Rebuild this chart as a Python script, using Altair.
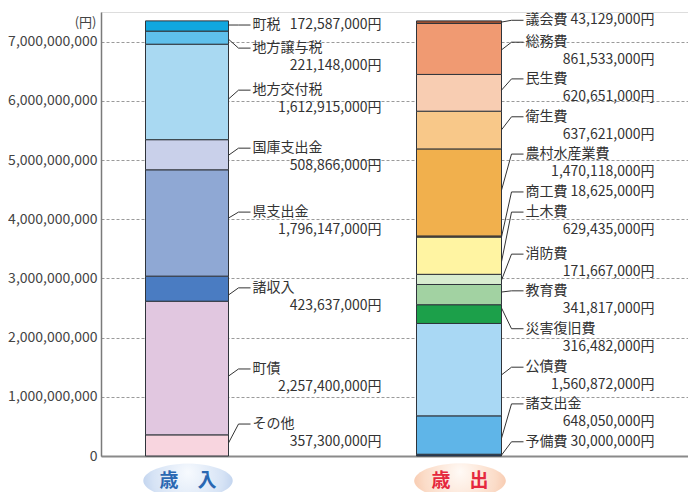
import altair as alt
import pandas as pd

# ---------------- data ----------------
sides = ["歳入", "歳出"]

rev_items = ["その他", "町債", "諸収入", "県支出金", "国庫支出金", "地方交付税", "地方譲与税", "町税"]
rev_values = [357300000, 2257400000, 423637000, 1796147000, 508866000, 1612915000, 221148000, 172587000]
rev_colors = ["#f8d5df", "#e1c7e0", "#4a7cc2", "#8fa8d4", "#c9d0ea", "#a9d9f2", "#5fc0ec", "#10a7df"]

exp_items = ["予備費", "諸支出金", "公債費", "災害復旧費", "教育費", "消防費", "土木費", "商工費",
             "農村水産業費", "衛生費", "民生費", "総務費", "議会費"]
exp_values = [30000000, 648050000, 1560872000, 316482000, 341817000, 171667000, 629435000, 18625000,
              1470118000, 637621000, 620651000, 861533000, 43129000]
exp_colors = ["#1c3a66", "#5fb5e8", "#a9d8f4", "#1ca04a", "#a2d2a2", "#d8ecd0", "#fff4a2", "#c27020",
              "#f1b04d", "#f8c889", "#f8cdb2", "#f09a72", "#a45230"]

axis_ticks = [0, 1000000000, 2000000000, 3000000000, 4000000000, 5000000000, 6000000000, 7000000000]

# ---------------- layout (label placement on the y scale, billions of yen) ----------------
rev_label_y = [0.54, 1.47, 2.84, 4.12, 5.20, 6.18, 6.89, 7.28]
rev_anchor_y = [0.22, 1.35, 2.72, 4.02, 5.08, 6.03, 7.04, 7.28]
rev_inline = [False, False, False, False, False, False, False, True]

exp_label_y = [0.24, 0.88, 1.50, 2.15, 2.79, 3.41, 4.12, 4.46, 5.10, 5.73, 6.37, 6.99, 7.36]
exp_anchor_y = [0.015, 0.30, 1.37, 2.50, 2.77, 2.97, 3.28, 3.70, 4.49, 5.51, 6.18, 6.86, 7.33]
exp_inline = [True, False, False, False, False, False, False, True, False, False, False, False, True]

PLOT_W, PLOT_H = 587, 444
Y_MAX = 7500000000
bar_left = {"歳入": 44.5, "歳出": 315.5}
bar_width = {"歳入": 83, "歳出": 85}
badge_y = -420000000
badge_text = {"歳入": "歳　入", "歳出": "歳　出"}
FONT = "Noto Sans CJK JP"

# ---------------- build tables ----------------
bar_rows, label_rows, leader_rows, badge_rows = [], [], [], []
groups = [
    ("歳入", rev_items, rev_values, rev_colors, rev_label_y, rev_anchor_y, rev_inline),
    ("歳出", exp_items, exp_values, exp_colors, exp_label_y, exp_anchor_y, exp_inline),
]
for side, items, vals, cols, ly, ay, inl in groups:
    left = bar_left[side]
    right = left + bar_width[side]
    base = 0
    for it, v, c, lyv, ayv, il in zip(items, vals, cols, ly, ay, inl):
        bar_rows.append(dict(side=side, item=it, x=left, x2=right, y=base, y2=base + v, color=c))
        base += v
        label_rows.append(dict(side=side, item=it, name=it, value=f"{v:,}円",
                               name_x=right + 24, value_x=right + 153,
                               ly=lyv * 1e9, inline=il))
        key = side + it
        leader_rows.append(dict(key=key, o=0, x=right, y=ayv * 1e9))
        leader_rows.append(dict(key=key, o=1, x=right + 10, y=lyv * 1e9))
        leader_rows.append(dict(key=key, o=2, x=right + 22, y=lyv * 1e9))
    badge_rows.append(dict(side=side, x=left + bar_width[side] / 2 + 1, y=badge_y, text=badge_text[side]))

bars = pd.DataFrame(bar_rows)
labels = pd.DataFrame(label_rows)
leaders = pd.DataFrame(leader_rows)
badges = pd.DataFrame(badge_rows)

# ---------------- encodings ----------------
x_scale = alt.Scale(domain=[0, PLOT_W], nice=False, zero=False)
y_scale = alt.Scale(domain=[0, Y_MAX], nice=False)
x_axis = alt.Axis(labels=False, ticks=False, grid=False, title=None, domainColor="#8a8a8a", domainWidth=2)
y_axis = alt.Axis(values=axis_ticks, format=",d", title="(円)", titleAngle=0, titleAlign="right",
                  titleBaseline="middle", titleX=-5, titleY=10, titleFont=FONT, titleFontSize=13,
                  titleFontWeight="normal", titleColor="#444",
                  labelFont=FONT, labelFontSize=14, labelColor="#444", labelPadding=4,
                  ticks=False, domainColor="#7a7a7a", domainWidth=1.5,
                  grid=True, gridColor="#9a9a9a", gridDash=[3, 2], gridWidth=1)


def X(f):
    return alt.X(f"{f}:Q", scale=x_scale, axis=x_axis)


def Y(f):
    return alt.Y(f"{f}:Q", scale=y_scale, axis=y_axis)


bar_layer = alt.Chart(bars).mark_rect(stroke="#2f343b", strokeWidth=1).encode(
    x=X("x"), x2="x2", y=Y("y"), y2="y2",
    color=alt.Color("color:N", scale=None),
)

leader_layer = alt.Chart(leaders).mark_line(color="#333333", strokeWidth=1).encode(
    x=X("x"), y=Y("y"), detail="key:N", order="o:Q",
)

name_layer = alt.Chart(labels).mark_text(align="left", baseline="middle", font=FONT, fontSize=14,
                                         color="#333333").encode(
    x=X("name_x"), y=Y("ly"), text="name:N",
)

value_inline = alt.Chart(labels).transform_filter("datum.inline").mark_text(
    align="right", baseline="middle", font=FONT, fontSize=14, color="#333333").encode(
    x=X("value_x"), y=Y("ly"), text="value:N",
)

value_below = alt.Chart(labels).transform_filter("!datum.inline").mark_text(
    align="right", baseline="middle", font=FONT, fontSize=14, color="#333333", dy=18).encode(
    x=X("value_x"), y=Y("ly"), text="value:N",
)

ellipse = "M -1 0 A 1 0.38 0 1 1 1 0 A 1 0.38 0 1 1 -1 0 Z"
rev_grad = alt.RadialGradient(gradient="radial", x1=0.5, y1=0.4, x2=0.5, y2=0.5, r1=0, r2=0.65,
                              stops=[alt.GradientStop(offset=0, color="#f7fafe"),
                                     alt.GradientStop(offset=0.6, color="#d6e3f5"),
                                     alt.GradientStop(offset=1, color="#abc3e7")])
exp_grad = alt.RadialGradient(gradient="radial", x1=0.5, y1=0.4, x2=0.5, y2=0.5, r1=0, r2=0.65,
                              stops=[alt.GradientStop(offset=0, color="#fffaf6"),
                                     alt.GradientStop(offset=0.6, color="#fbdcc8"),
                                     alt.GradientStop(offset=1, color="#f4b896")])

badge_rev = alt.Chart(badges).transform_filter("datum.side == '歳入'").mark_point(
    shape=ellipse, filled=True, size=8000, fill=rev_grad, opacity=1, strokeWidth=0).encode(
    x=X("x"), y=Y("y"))
badge_exp = alt.Chart(badges).transform_filter("datum.side == '歳出'").mark_point(
    shape=ellipse, filled=True, size=8400, fill=exp_grad, opacity=1, strokeWidth=0).encode(
    x=X("x"), y=Y("y"))

badge_text_layer = alt.Chart(badges).mark_text(font=FONT, fontSize=19, fontWeight="bold",
                                                baseline="middle", align="center").encode(
    x=X("x"), y=Y("y"), text="text:N",
    color=alt.Color("side:N", scale=alt.Scale(domain=sides, range=["#2a68b2", "#e5283e"]), legend=None),
)

chart = alt.layer(
    bar_layer, leader_layer, name_layer, value_inline, value_below,
    badge_rev, badge_exp, badge_text_layer,
).properties(
    width=PLOT_W, height=PLOT_H,
    autosize=alt.AutoSizeParams(type="none"),
    padding={"left": 93, "top": 4, "right": 0, "bottom": 36},
).configure_view(stroke=None).configure(background="white")

chart.save("out.html", embed_options={"renderer": "svg", "actions": False})
